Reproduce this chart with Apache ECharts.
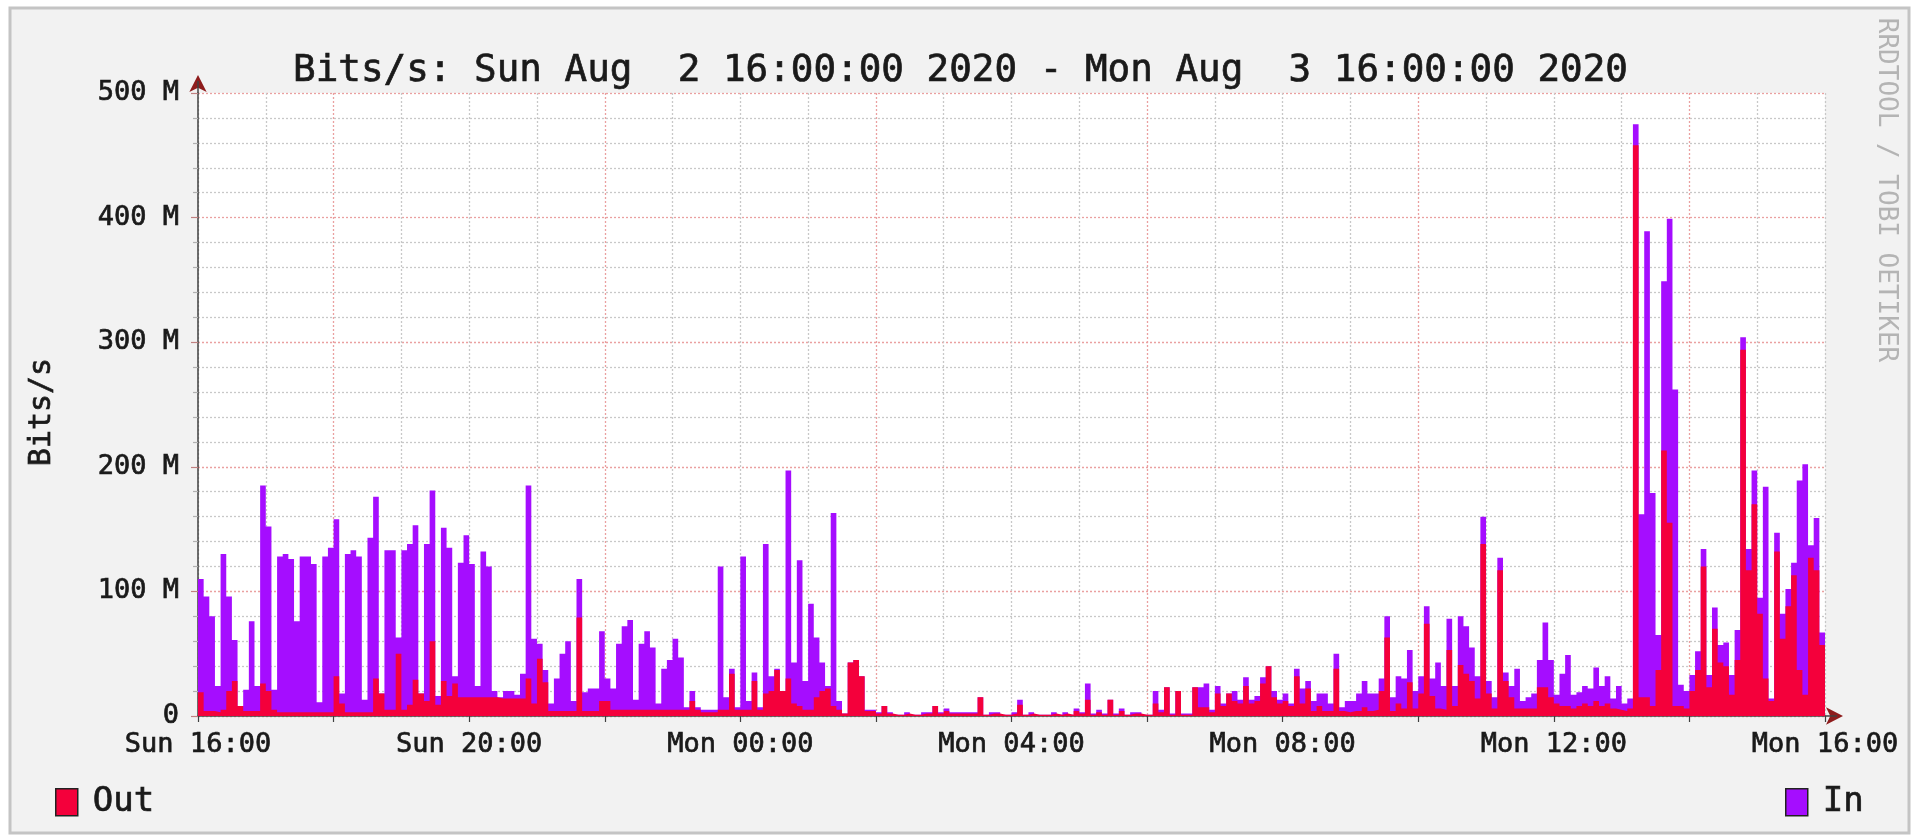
<!DOCTYPE html>
<html>
<head>
<meta charset="utf-8">
<script src="https://cdn.jsdelivr.net/npm/echarts@6/dist/echarts.min.js"></script>
<style>
html,body{margin:0;padding:0;background:#ffffff;}
#chart{width:1921px;height:837px;}
</style>
</head>
<body>
<div id="chart"></div>
<script>
// ---- data (values in M bits/s, one value per 5-minute step) ----
const titleText = 'Bits/s: Sun Aug  2 16:00:00 2020 - Mon Aug  3 16:00:00 2020';
const stepMinutes = 5;
const xTickLabels = ['Sun 16:00', 'Sun 20:00', 'Mon 00:00', 'Mon 04:00', 'Mon 08:00', 'Mon 12:00', 'Mon 16:00'];
const yTickLabels = ['0', '100 M', '200 M', '300 M', '400 M', '500 M'];

const inSun16 = [110, 96, 80, 24, 130, 96, 61, 8, 21, 76, 24, 185, 152, 21, 128, 130, 126, 76, 128, 128, 122, 11, 128, 135, 158, 18, 130, 133, 128, 13, 143, 176, 18, 133, 133, 63, 133, 138, 153, 18, 138, 181, 16, 151, 135, 32, 123, 145];
const inSun20 = [122, 24, 132, 120, 20, 15, 20, 20, 17, 34, 185, 62, 58, 37, 10, 30, 50, 60, 12, 110, 19, 22, 22, 68, 30, 22, 58, 72, 77, 13, 58, 68, 55, 10, 38, 45, 62, 47, 7, 20, 7, 5, 5, 5, 120, 15, 38, 7];
const inMon00 = [128, 12, 35, 7, 138, 32, 38, 20, 197, 43, 125, 28, 90, 63, 43, 24, 163, 12, 2, 43, 45, 32, 5, 5, 3, 8, 3, 1, 1, 3, 1, 1, 3, 3, 8, 3, 6, 3, 3, 3, 3, 3, 15, 1, 3, 3, 1, 1];
const inMon04 = [3, 13, 1, 3, 1, 1, 1, 3, 1, 3, 1, 6, 3, 26, 2, 5, 2, 13, 2, 6, 1, 3, 3, 1, 1, 20, 5, 23, 2, 20, 2, 2, 23, 23, 26, 5, 24, 10, 18, 20, 13, 31, 13, 16, 31, 40, 20, 13];
const inMon08 = [18, 10, 38, 22, 28, 12, 18, 18, 10, 50, 7, 12, 12, 18, 28, 18, 18, 30, 80, 15, 32, 30, 53, 20, 32, 88, 30, 43, 24, 78, 24, 80, 72, 55, 32, 160, 28, 15, 127, 35, 24, 38, 12, 15, 18, 45, 75, 45];
const inMon12 = [17, 34, 49, 17, 19, 24, 22, 39, 24, 32, 14, 24, 10, 14, 475, 162, 389, 179, 65, 349, 399, 262, 25, 20, 33, 52, 134, 33, 87, 57, 59, 33, 69, 304, 134, 197, 95, 184, 14, 147, 82, 102, 123, 189, 202, 137, 159, 67];

const outSun16 = [19, 4, 4, 3, 5, 20, 28, 8, 4, 4, 4, 26, 20, 5, 3, 3, 3, 3, 3, 3, 3, 3, 3, 3, 32, 10, 3, 3, 3, 3, 3, 30, 18, 5, 5, 50, 5, 9, 29, 18, 12, 60, 9, 28, 16, 26, 15, 15];
const outSun20 = [15, 15, 15, 15, 15, 14, 14, 14, 14, 14, 30, 10, 46, 27, 4, 4, 4, 4, 4, 79, 4, 4, 4, 12, 12, 5, 5, 5, 5, 5, 5, 5, 5, 5, 5, 5, 5, 5, 5, 12, 5, 3, 3, 3, 5, 5, 34, 5];
const outMon00 = [5, 5, 28, 5, 18, 20, 37, 20, 30, 10, 8, 5, 5, 15, 20, 22, 8, 5, 2, 43, 45, 32, 4, 4, 2, 8, 2, 1, 1, 2, 1, 1, 2, 2, 8, 2, 4, 2, 2, 2, 2, 2, 15, 1, 2, 2, 1, 1];
const outMon04 = [2, 9, 1, 2, 1, 1, 1, 2, 1, 2, 1, 4, 2, 13, 1, 3, 1, 13, 1, 4, 1, 2, 2, 1, 1, 10, 3, 23, 1, 20, 1, 1, 23, 7, 7, 3, 18, 8, 18, 12, 10, 24, 10, 12, 26, 40, 15, 10];
const outMon08 = [12, 8, 32, 10, 22, 4, 8, 4, 4, 38, 4, 3, 4, 4, 7, 4, 5, 20, 63, 4, 10, 6, 27, 6, 18, 74, 16, 6, 5, 53, 8, 41, 34, 28, 14, 138, 18, 6, 117, 28, 15, 6, 6, 6, 6, 23, 23, 15];
const outMon12 = [10, 8, 8, 6, 8, 10, 8, 12, 8, 10, 6, 5, 4, 6, 458, 15, 15, 8, 37, 213, 155, 8, 8, 6, 20, 37, 120, 23, 70, 43, 40, 17, 45, 294, 117, 170, 82, 30, 12, 132, 62, 88, 113, 37, 17, 127, 117, 57];

// ---- build ----
const inValues = [].concat(inSun16, inSun20, inMon00, inMon04, inMon08, inMon12);
const outValues = [].concat(outSun16, outSun20, outMon00, outMon04, outMon08, outMon12);
const spanMinutes = inValues.length * stepMinutes;

function toPoints(values) {
  const pts = values.map((v, i) => [i * stepMinutes, v]);
  pts.push([values.length * stepMinutes, values[values.length - 1]]);
  return pts;
}

const MONO = 'DejaVu Sans Mono';
const PURPLE = '#a50dff';
const RED = '#f4003b';
const MAJOR = '#eaa0a0';
const MINOR = '#c8c8c8';
const AXIS = '#404040';
const ARROW = '#8e1c1c';
const TEXT = '#1a1a1a';
const BOLDEN = {textBorderColor: TEXT, textBorderWidth: 0.7};

const chart = echarts.init(document.getElementById('chart'), null, {renderer: 'canvas'});
const baseGraphics = [
  {type: 'rect', z: -100, silent: true,
   shape: {x: 10, y: 8, width: 1899, height: 825},
   style: {fill: '#f2f2f2', stroke: '#c4c4c4', lineWidth: 3}},
  {type: 'text', silent: true, x: 42, y: 412, rotation: Math.PI / 2,
   style: {text: 'Bits/s', font: '30px "DejaVu Sans Mono"', fill: TEXT, stroke: TEXT, lineWidth: 0.7, textAlign: 'center', textVerticalAlign: 'middle'}},
  {type: 'text', silent: true, x: 1886, y: 190, rotation: -Math.PI / 2,
   style: {text: 'RRDTOOL / TOBI OETIKER', font: '26px "DejaVu Sans Mono"', fill: '#b4b4b4', textAlign: 'center', textVerticalAlign: 'middle'}}
];
chart.setOption({
  animation: false,
  backgroundColor: '#ffffff',
  graphic: baseGraphics,
  title: {
    text: titleText,
    left: 'center',
    top: 47,
    textStyle: Object.assign({fontFamily: MONO, fontSize: 37.6, fontWeight: 'normal', color: TEXT}, BOLDEN)
  },
  legend: [
    {data: [{name: 'Out', icon: 'rect', itemStyle: {color: RED, borderColor: '#222', borderWidth: 1.5}}],
     left: 50, top: 780, itemWidth: 22, itemHeight: 27, selectedMode: false,
     textStyle: Object.assign({fontFamily: MONO, fontSize: 34, color: TEXT, padding: [0, 0, 0, 10]}, BOLDEN)},
    {data: [{name: 'In', icon: 'rect', itemStyle: {color: PURPLE, borderColor: '#222', borderWidth: 1.5}}],
     left: 1780, top: 780, itemWidth: 22, itemHeight: 27, selectedMode: false,
     textStyle: Object.assign({fontFamily: MONO, fontSize: 34, color: TEXT, padding: [0, 0, 0, 10]}, BOLDEN)}
  ],
  grid: {left: 198, right: 96, top: 93, bottom: 121, show: true, backgroundColor: '#ffffff', borderWidth: 0, containLabel: false},
  xAxis: [
    {type: 'value', min: 0, max: spanMinutes, interval: 120,
     axisLine: {show: true, onZero: false, lineStyle: {color: AXIS, width: 1.5}},
     axisTick: {show: true, length: 6, lineStyle: {color: AXIS, width: 1.2}},
     minorTick: {show: false, splitNumber: 2},
     axisLabel: Object.assign({show: true, margin: 15, fontFamily: MONO, fontSize: 27, color: TEXT,
       showMinLabel: true, showMaxLabel: true,
       formatter: v => (v % 240 === 0 ? xTickLabels[v / 240] : '')}, BOLDEN),
     splitLine: {show: true, lineStyle: {color: [MINOR, MAJOR], width: 1.3, type: [2, 2]}},
     minorSplitLine: {show: true, lineStyle: {color: MINOR, width: 1.3, type: [2, 2]}}},
    {type: 'value', min: 0, max: spanMinutes, position: 'bottom',
     axisLine: {show: true, onZero: false, symbol: ['none', 'arrow'], symbolSize: [13, 17], symbolOffset: [0, 18],
       lineStyle: {color: ARROW, width: 0}},
     axisTick: {show: false}, axisLabel: {show: false}, splitLine: {show: false}}
  ],
  yAxis: [
    {type: 'value', min: 0, max: 500, interval: 100,
     axisLine: {show: true, lineStyle: {color: AXIS, width: 1.5}},
     axisTick: {show: true, length: 7, lineStyle: {color: '#c08080', width: 1.2}},
     minorTick: {show: true, splitNumber: 5, length: 5, lineStyle: {color: '#b0b0b0', width: 1.2}},
     axisLabel: Object.assign({show: true, margin: 19, fontFamily: MONO, fontSize: 27, color: TEXT,
       formatter: v => yTickLabels[Math.round(v / 100)]}, BOLDEN),
     splitLine: {show: true, lineStyle: {color: MAJOR, width: 1.3, type: [2, 2]}},
     minorSplitLine: {show: true, lineStyle: {color: MINOR, width: 1.3, type: [2, 2]}}},
    {type: 'value', min: 0, max: 500, position: 'left',
     axisLine: {show: true, symbol: ['none', 'arrow'], symbolSize: [13, 17], symbolOffset: [0, 18],
       lineStyle: {color: ARROW, width: 0}},
     axisTick: {show: false}, axisLabel: {show: false}, splitLine: {show: false}}
  ],
  series: [
    {name: 'In', type: 'line', step: 'end', data: toPoints(inValues), xAxisIndex: 0, yAxisIndex: 0,
     symbol: 'none', showSymbol: false, silent: true, z: 2,
     color: PURPLE, itemStyle: {color: PURPLE},
     lineStyle: {width: 0, color: PURPLE}, areaStyle: {color: PURPLE, opacity: 1}},
    {name: 'Out', type: 'line', step: 'end', data: toPoints(outValues), xAxisIndex: 0, yAxisIndex: 0,
     symbol: 'none', showSymbol: false, silent: true, z: 3,
     color: RED, itemStyle: {color: RED},
     lineStyle: {width: 0, color: RED}, areaStyle: {color: RED, opacity: 1}}
  ]
});

// extend the axis lines a little beyond the plot up to the arrow heads
const origin = chart.convertToPixel({gridIndex: 0}, [0, 0]);
const corner = chart.convertToPixel({gridIndex: 0}, [spanMinutes, 500]);
chart.setOption({
  graphic: baseGraphics.concat([
    {type: 'line', silent: true, z: 5, shape: {x1: origin[0], y1: corner[1], x2: origin[0], y2: corner[1] - 12},
     style: {stroke: AXIS, lineWidth: 1.5}},
    {type: 'line', silent: true, z: 5, shape: {x1: corner[0], y1: origin[1], x2: corner[0] + 12, y2: origin[1]},
     style: {stroke: AXIS, lineWidth: 1.5}}
  ])
});
</script>
</body>
</html>
